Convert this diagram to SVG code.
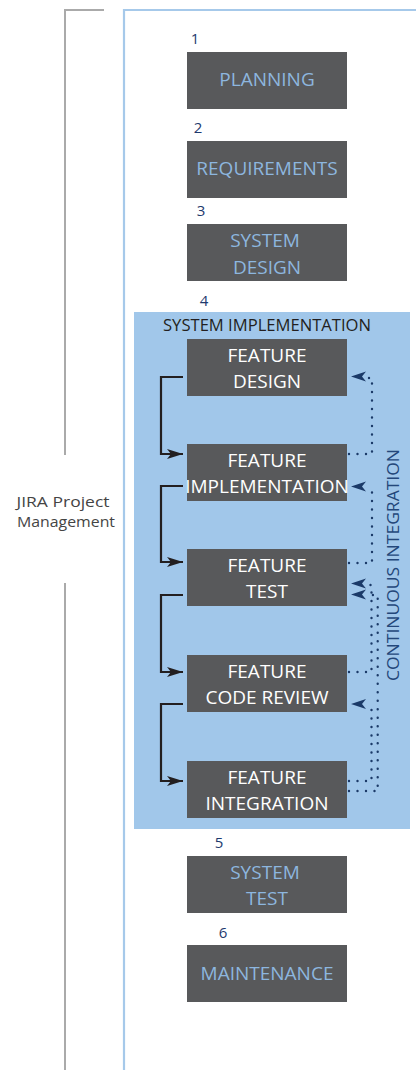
<svg xmlns="http://www.w3.org/2000/svg" width="416" height="1070" viewBox="0 0 416 1070">
<defs>
<style>
.box{fill:#58595b}
.t1{font-family:"Open Sans","Liberation Sans",sans-serif;font-size:19px;fill:#8db6df;text-anchor:middle}
.t2{font-family:"Open Sans","Liberation Sans",sans-serif;font-size:19px;fill:#ffffff;text-anchor:middle}
.num{font-family:"Open Sans","Liberation Sans",sans-serif;font-size:15px;fill:#1e3a6e;text-anchor:middle}
.lbl{font-family:"Open Sans","Liberation Sans",sans-serif;font-size:15.5px;text-anchor:middle}
.jira{font-family:"Open Sans","Liberation Sans",sans-serif;font-size:14px;text-anchor:middle;fill:#444444}
.solid{fill:none;stroke:#231f20;stroke-width:2.2}
.dot{fill:none;stroke:#1b3a68;stroke-width:2.4;stroke-linecap:round;stroke-dasharray:0 8.5}
</style>
<marker id="ah" markerUnits="userSpaceOnUse" markerWidth="20" markerHeight="14" viewBox="0 -7 20 14" refX="16" refY="0" orient="auto">
<path d="M16,0 L0,-5 L4,0 L0,5 Z" fill="#231f20"/>
</marker>
</defs>
<rect width="416" height="1070" fill="#ffffff"/>

<g id="jira-bracket">
<path d="M104,10 H65 V455 M65,583 V1070" fill="none" stroke="#aaaaaa" stroke-width="2"/>
<text class="jira" x="63" y="507" textLength="93" lengthAdjust="spacingAndGlyphs">JIRA Project</text>
<text class="jira" x="66" y="527" textLength="98" lengthAdjust="spacingAndGlyphs">Management</text>
</g>

<g id="frame">
<path d="M416,10 H124 V1070" fill="none" stroke="#a6c9ea" stroke-width="2.2"/>
</g>

<g id="planning">
<text class="num" x="195" y="44">1</text>
<rect class="box" x="187" y="52" width="160" height="57"/>
<text class="t1" x="267" y="86">PLANNING</text>
</g>
<g id="requirements">
<text class="num" x="198" y="133">2</text>
<rect class="box" x="187" y="141" width="160" height="57"/>
<text class="t1" x="267" y="175">REQUIREMENTS</text>
</g>
<g id="system-design">
<text class="num" x="201" y="216">3</text>
<rect class="box" x="187" y="224" width="160" height="57"/>
<text class="t1" x="265" y="247">SYSTEM</text>
<text class="t1" x="267" y="274">DESIGN</text>
</g>

<g id="system-implementation">
<text class="num" x="204" y="306">4</text>
<rect x="134" y="312" width="276" height="517" fill="#a1c7ea"/>
<text class="lbl" x="267" y="331" fill="#231f20" textLength="208" lengthAdjust="spacingAndGlyphs">SYSTEM IMPLEMENTATION</text>
<text class="lbl" transform="translate(398.5,565) rotate(-90)" fill="#24477a" textLength="232" lengthAdjust="spacingAndGlyphs">CONTINUOUS INTEGRATION</text>
</g>

<g id="feature-design">
<rect class="box" x="187" y="339" width="160" height="57"/>
<text class="t2" x="267" y="362">FEATURE</text>
<text class="t2" x="267" y="388">DESIGN</text>
</g>
<g id="feature-implementation">
<rect class="box" x="187" y="444" width="160" height="57"/>
<text class="t2" x="267" y="467">FEATURE</text>
<text class="t2" x="267" y="493">IMPLEMENTATION</text>
</g>
<g id="feature-test">
<rect class="box" x="187" y="549" width="160" height="57"/>
<text class="t2" x="267" y="572">FEATURE</text>
<text class="t2" x="267" y="598">TEST</text>
</g>
<g id="feature-code-review">
<rect class="box" x="187" y="655" width="160" height="57"/>
<text class="t2" x="267" y="678">FEATURE</text>
<text class="t2" x="267" y="704">CODE REVIEW</text>
</g>
<g id="feature-integration">
<rect class="box" x="187" y="761" width="160" height="57"/>
<text class="t2" x="267" y="784">FEATURE</text>
<text class="t2" x="267" y="810">INTEGRATION</text>
</g>

<g id="system-test">
<text class="num" x="219" y="848">5</text>
<rect class="box" x="187" y="856" width="160" height="57"/>
<text class="t1" x="265" y="879">SYSTEM</text>
<text class="t1" x="267" y="905">TEST</text>
</g>
<g id="maintenance">
<text class="num" x="223" y="938">6</text>
<rect class="box" x="187" y="945" width="160" height="57"/>
<text class="t1" x="267" y="980">MAINTENANCE</text>
</g>

<g id="connectors">
<path class="solid" d="M183,377 H161 V454 H183" marker-end="url(#ah)"/>
<path class="solid" d="M183,486 H161 V562 H183" marker-end="url(#ah)"/>
<path class="solid" d="M183,595 H161 V672 H183" marker-end="url(#ah)"/>
<path class="solid" d="M183,704 H161 V781 H183" marker-end="url(#ah)"/>

<path class="dot" d="M349,454 H372 V378 H367"/>
<path d="M351,376.5 L366,371.5 L362,376.5 L366,381.5 Z" fill="#1b3a68"/>
<path class="dot" d="M349,563 H372 V489 H367"/>
<path d="M351,486.5 L366,481.5 L362,486.5 L366,491.5 Z" fill="#1b3a68"/>
<path class="dot" d="M349,672 H371.5 V585 H367"/>
<path d="M351,583.5 L366,578.5 L362,583.5 L366,588.5 Z" fill="#1b3a68"/>
<path class="dot" d="M349,781 H371.5 V706 H367"/>
<path d="M351,704 L366,699 L362,704 L366,709 Z" fill="#1b3a68"/>
<path class="dot" d="M349,791 H377.7 V595 H367"/>
<path d="M351,594.5 L366,589.5 L362,594.5 L366,599.5 Z" fill="#1b3a68"/>
</g>
</svg>
